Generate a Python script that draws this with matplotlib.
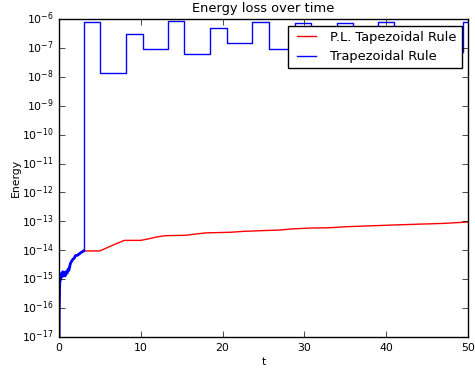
import numpy as np
import matplotlib
matplotlib.use('Agg')
import matplotlib.pyplot as plt
from matplotlib.ticker import NullLocator, LogLocator

plt.style.use('classic')
plt.rcParams['font.size'] = 7.8
plt.rcParams['figure.facecolor'] = 'white'

# P.L. trapezoidal rule energy loss
plTime = [0.01, 0.05, 0.15, 0.3, 0.6, 1.0, 1.3, 1.7, 2.2, 2.7, 3.0, 5.0, 5.8, 6.8, 8.0,
          10.0, 11.0, 12.0, 13.0, 15.5, 16.5, 18.0, 21.0, 22.5, 25.0, 27.0, 28.5,
          31.0, 33.0, 35.0, 38.0, 41.0, 44.0, 47.0, 50.0]
plEnergy = [1e-17, 2e-16, 8e-16, 1.2e-15, 1.5e-15, 1.8e-15, 3e-15, 5e-15, 7e-15, 8.5e-15,
            9.5e-15, 9.5e-15, 1.2e-14, 1.6e-14, 2.2e-14, 2.2e-14, 2.5e-14, 2.9e-14,
            3.2e-14, 3.3e-14, 3.6e-14, 4.0e-14, 4.2e-14, 4.5e-14, 4.8e-14, 5.0e-14,
            5.5e-14, 5.9e-14, 6.0e-14, 6.5e-14, 7.0e-14, 7.5e-14, 8.0e-14, 8.5e-14, 9.5e-14]

# trapezoidal rule, early part (noisy)
trTime = [0.002, 0.03, 0.08, 0.12, 0.2, 0.3, 0.35, 0.45, 0.55, 0.65, 0.75, 0.85, 1.0, 1.1,
          1.2, 1.4, 1.6, 1.9, 2.0, 2.3, 2.6, 3.0]
trEnergy = [1e-18, 1e-16, 6e-16, 9e-16, 1.0e-15, 1.6e-15, 1.2e-15, 1.8e-15, 1.3e-15, 1.7e-15,
            1.3e-15, 1.8e-15, 1.6e-15, 2.2e-15, 2.0e-15, 3.5e-15, 4.5e-15, 5.5e-15,
            6.5e-15, 6.8e-15, 8e-15, 9.5e-15]

# trapezoidal rule, later part (piecewise constant)
stepEdges = [3.0, 5.0, 8.2, 10.3, 13.3, 15.3, 18.5, 20.5, 23.6, 25.7, 28.9, 30.8,
             34.0, 36.0, 39.0, 41.0, 44.2, 46.2, 49.4, 50.0]
stepLevels = [8e-7, 1.4e-8, 3e-7, 9e-8, 8.5e-7, 6e-8, 5e-7, 1.5e-7, 8e-7, 9e-8,
              7e-7, 1e-7, 7e-7, 1e-7, 8e-7, 1e-7, 5e-7, 7e-8, 8e-7]

edges = np.array(stepEdges)
levels = np.array(stepLevels)
stepT = np.concatenate([[trTime[-1]], np.repeat(edges, 2)[1:-1]])
stepE = np.concatenate([[trEnergy[-1]], np.repeat(levels, 2)])

fig = plt.figure(figsize=(4.75, 3.7), dpi=100)
ax = fig.add_axes([59/475, 33/370, 409/475, 318/370])

ax.plot(plTime, plEnergy, 'r-', label='P.L. Tapezoidal Rule')
ax.plot(trTime, trEnergy, 'b-', lw=2)
ax.plot(stepT, stepE, 'b-', label='Trapezoidal Rule')

ax.set_yscale('log')
ax.set_xlim(0, 50)
ax.set_ylim(1e-17, 1e-6)
ax.yaxis.set_major_locator(LogLocator(base=10, numticks=20))
ax.yaxis.set_minor_locator(NullLocator())

ax.set_title('Energy loss over time')
ax.set_xlabel('t', labelpad=3)
ax.set_ylabel('Energy', labelpad=1)
ax.legend(loc='upper right')

fig.savefig('out.png', dpi=100)
